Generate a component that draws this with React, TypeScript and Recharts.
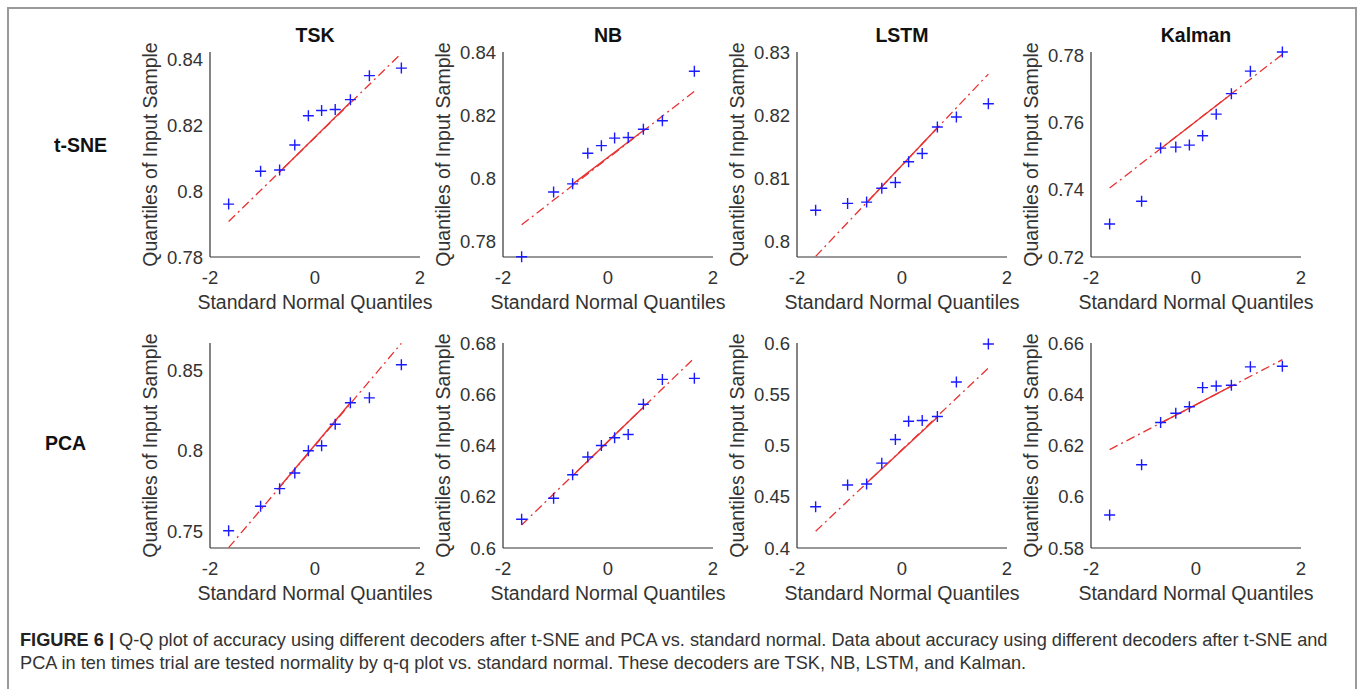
import React from 'react';
import { ScatterChart, Scatter, XAxis, YAxis } from 'recharts';

const zQuantiles = [-1.645, -1.036, -0.674, -0.385, -0.126, 0.126, 0.385, 0.674, 1.036, 1.645];
// x positions where the fitted line starts, turns solid, turns dashed again, ends
const lineX = [-1.645, -0.674, 0.674, 1.645];

const decoders = ['TSK', 'NB', 'LSTM', 'Kalman'];
const methods = ['t-SNE', 'PCA'];

// sorted accuracies, t-SNE row
const tsneTSK = [0.7961, 0.8061, 0.8065, 0.8141, 0.823, 0.8246, 0.8249, 0.8279, 0.8352, 0.8375];
const tsneNB = [0.7751, 0.7956, 0.7982, 0.8079, 0.8103, 0.8127, 0.8129, 0.8155, 0.8182, 0.8339];
const tsneLSTM = [0.8049, 0.806, 0.8062, 0.8084, 0.8093, 0.8126, 0.8139, 0.8181, 0.8197, 0.8218];
const tsneKalman = [0.7298, 0.7366, 0.7524, 0.7527, 0.7533, 0.7561, 0.7625, 0.7686, 0.7753, 0.781];

// sorted accuracies, PCA row
const pcaTSK = [0.7502, 0.7655, 0.7764, 0.7861, 0.8, 0.8031, 0.8165, 0.8298, 0.8329, 0.8535];
const pcaNB = [0.6112, 0.6194, 0.6286, 0.6355, 0.64, 0.643, 0.6443, 0.6561, 0.6658, 0.6662];
const pcaLSTM = [0.4402, 0.4614, 0.4624, 0.4828, 0.5059, 0.5237, 0.5244, 0.5283, 0.562, 0.599];
const pcaKalman = [0.5929, 0.6125, 0.629, 0.6326, 0.6351, 0.6426, 0.6432, 0.6435, 0.6507, 0.6509];

// reference line values at lineX
const tsneLines = [
  [0.7908, 0.8059, 0.8271, 0.842],
  [0.7852, 0.7981, 0.8151, 0.8275],
  [0.7976, 0.8061, 0.818, 0.8265],
  [0.7405, 0.7522, 0.7685, 0.7803],
];
const pcaLines = [
  [0.7397, 0.7774, 0.8298, 0.8668],
  [0.609, 0.6282, 0.6549, 0.6742],
  [0.4163, 0.4634, 0.5276, 0.5756],
  [0.6184, 0.6287, 0.6432, 0.6535],
];

const tsneDomains = [[0.78, 0.8424], [0.775, 0.84], [0.7975, 0.83], [0.72, 0.781]];
const pcaDomains = [[0.7395, 0.867], [0.6, 0.68], [0.4, 0.6], [0.58, 0.66]];

const tsneTicks = [
  [0.78, 0.8, 0.82, 0.84],
  [0.78, 0.8, 0.82, 0.84],
  [0.8, 0.81, 0.82, 0.83],
  [0.72, 0.74, 0.76, 0.78],
];
const pcaTicks = [
  [0.75, 0.8, 0.85],
  [0.6, 0.62, 0.64, 0.66, 0.68],
  [0.4, 0.45, 0.5, 0.55, 0.6],
  [0.58, 0.6, 0.62, 0.64, 0.66],
];
const xTicks = [-2, 0, 2];

const FONT = "'Liberation Sans', Arial, Helvetica, sans-serif";
const TEXT = '#333333';
const RED = '#e83232';
const BLUE = '#1a1aff';

const colLeft = [210, 503, 797, 1091];
const rowTop = [52, 343];
const PW = 210;
const PH = 205;
const AXIS_W = 80;
const RIGHT = 50;

const Plus = (props: any) => {
  const { cx, cy } = props;
  if (cx == null || cy == null) return <g />;
  const s = 5.5;
  return (
    <path
      d={`M${cx - s},${cy}H${cx + s}M${cx},${cy - s}V${cy + s}`}
      stroke={BLUE}
      strokeWidth={1.4}
      fill="none"
    />
  );
};

const NoShape = () => <g />;

interface PanelProps {
  values: number[];
  line: number[];
  domain: number[];
  ticks: number[];
  left: number;
  top: number;
}

const Panel: React.FC<PanelProps> = ({ values, line, domain, ticks, left, top }) => {
  const points = zQuantiles.map((x, i) => ({ x, y: values[i] }));
  const dashed = [
    { x: lineX[0], y: line[0] },
    { x: lineX[3], y: line[3] },
  ];
  const solid = [
    { x: lineX[1], y: line[1] },
    { x: lineX[2], y: line[2] },
  ];
  const tickStyle = { fontSize: 18.5, fill: TEXT, fontFamily: FONT };
  return (
    <div style={{ position: 'absolute', left: left - AXIS_W, top: top - 10 }}>
      <ScatterChart
        width={AXIS_W + PW + RIGHT}
        height={10 + PH + 70}
        margin={{ top: 10, right: RIGHT, left: 0, bottom: 0 }}
      >
        <XAxis
          type="number"
          dataKey="x"
          domain={[-2, 2]}
          ticks={xTicks}
          interval={0}
          tickLine={false}
          tickSize={0}
          tickMargin={14}
          height={70}
          axisLine={{ stroke: TEXT, strokeWidth: 1.2 }}
          tick={tickStyle}
          label={() => (
            <text x={AXIS_W + PW / 2} y={10 + PH + 51.5} textAnchor="middle" fontSize={19.5} fill={TEXT} fontFamily={FONT}>
              Standard Normal Quantiles
            </text>
          )}
        />
        <YAxis
          type="number"
          dataKey="y"
          domain={domain}
          ticks={ticks}
          interval={0}
          tickLine={false}
          tickSize={0}
          tickMargin={7}
          width={AXIS_W}
          axisLine={{ stroke: TEXT, strokeWidth: 1.2 }}
          tick={tickStyle}
          label={() => (
            <text
              x={27}
              y={10 + PH / 2}
              transform={`rotate(-90, 27, ${10 + PH / 2})`}
              textAnchor="middle"
              fontSize={19.5}
              fill={TEXT}
              fontFamily={FONT}
            >
              Quantiles of Input Sample
            </text>
          )}
        />
        <Scatter
          data={dashed}
          shape={NoShape}
          line={{ stroke: RED, strokeWidth: 1.3, strokeDasharray: '9 4 2 4' }}
          isAnimationActive={false}
        />
        <Scatter data={solid} shape={NoShape} line={{ stroke: RED, strokeWidth: 1.4 }} isAnimationActive={false} />
        <Scatter data={points} shape={Plus} isAnimationActive={false} />
      </ScatterChart>
    </div>
  );
};

const rows = [
  { values: [tsneTSK, tsneNB, tsneLSTM, tsneKalman], lines: tsneLines, domains: tsneDomains, ticks: tsneTicks },
  { values: [pcaTSK, pcaNB, pcaLSTM, pcaKalman], lines: pcaLines, domains: pcaDomains, ticks: pcaTicks },
];

const rowLabelX = [54, 45];
const rowLabelY = [152, 450];

export default function App() {
  return (
    <div
      style={{
        position: 'absolute',
        left: 0,
        top: 0,
        width: 1360,
        height: 689,
        overflow: 'hidden',
        background: '#ffffff',
        fontFamily: FONT,
      }}
    >
      <div
        style={{
          position: 'absolute',
          left: 7,
          top: 7,
          width: 1350,
          height: 720,
          boxSizing: 'border-box',
          border: '2px solid #9a9a9a',
        }}
      />
      {rows.map((row, r) =>
        decoders.map((d, c) => (
          <Panel
            key={`${r}-${d}`}
            values={row.values[c]}
            line={row.lines[c]}
            domain={row.domains[c]}
            ticks={row.ticks[c]}
            left={colLeft[c]}
            top={rowTop[r]}
          />
        ))
      )}
      <svg width={1360} height={689} style={{ position: 'absolute', left: 0, top: 0, pointerEvents: 'none' }}>
        {decoders.map((d, c) => (
          <text
            key={d}
            x={colLeft[c] + PW / 2}
            y={42}
            textAnchor="middle"
            fontSize={19.5}
            fontWeight="bold"
            fill="#111"
            fontFamily={FONT}
          >
            {d}
          </text>
        ))}
        {methods.map((m, r) => (
          <text key={m} x={rowLabelX[r]} y={rowLabelY[r]} fontSize={19.5} fontWeight="bold" fill="#111" fontFamily={FONT}>
            {m}
          </text>
        ))}
        <text x={20} y={646} fontSize={18.2} fill={TEXT} fontFamily={FONT}>
          <tspan fontWeight="bold" fill="#222">FIGURE 6 | </tspan>
          Q-Q plot of accuracy using different decoders after t-SNE and PCA vs. standard normal. Data about accuracy using different decoders after t-SNE and
        </text>
        <text x={20} y={669} fontSize={18.2} fill={TEXT} fontFamily={FONT}>
          PCA in ten times trial are tested normality by q-q plot vs. standard normal. These decoders are TSK, NB, LSTM, and Kalman.
        </text>
      </svg>
    </div>
  );
}
